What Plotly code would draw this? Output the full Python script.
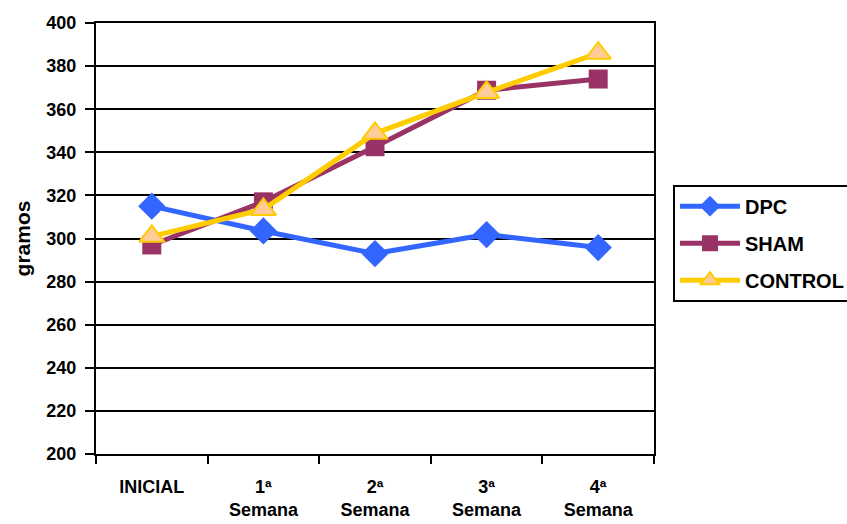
import plotly.graph_objects as go

# Weekly body-weight measurements (grams)
categories = ["INICIAL", "1ª<br>Semana", "2ª<br>Semana", "3ª<br>Semana", "4ª<br>Semana"]
dpc = [315, 303.5, 293, 301.8, 295.8]
sham = [297, 317, 342.6, 368.8, 374]
control = [301, 313.5, 348.8, 367.8, 386]

font_family = "Arial, Liberation Sans, sans-serif"

fig = go.Figure()
fig.add_trace(go.Scatter(
    x=categories, y=dpc, name="DPC", mode="lines+markers", legendgroup="g1",
    line=dict(color="#3366FF", width=5),
    marker=dict(symbol="diamond", size=21, color="#3366FF"),
))
fig.add_trace(go.Scatter(
    x=categories, y=sham, name="SHAM", mode="lines+markers", legendgroup="g2",
    line=dict(color="#993366", width=5),
    marker=dict(symbol="square", size=19, color="#993366"),
))
fig.add_trace(go.Scatter(
    x=categories, y=control, name="CONTROL", mode="lines+markers", legendgroup="g3",
    line=dict(color="#FFCC00", width=5),
    marker=dict(symbol="triangle-up", size=22, color="#FFCC99",
                line=dict(color="#FFCC00", width=2)),
))

fig.update_layout(
    width=847, height=524,
    margin=dict(l=96, r=193, t=23, b=70, autoexpand=False),
    paper_bgcolor="white", plot_bgcolor="white",
    font=dict(family=font_family, size=18, color="black"),
    showlegend=True,
    legend=dict(
        x=1.034, y=0.625, xanchor="left", yanchor="top",
        bordercolor="black", borderwidth=2, bgcolor="white",
        font=dict(family=font_family, size=20, color="black", weight="bold"),
        itemwidth=60, tracegroupgap=8,
    ),
)

fig.update_xaxes(
    type="category", tickson="boundaries",
    showline=True, linecolor="black", linewidth=2, mirror=True,
    ticks="outside", ticklen=8, tickcolor="black", tickwidth=2,
    showgrid=False, ticklabelstandoff=15,
    tickfont=dict(family=font_family, size=18, color="black", weight="bold"),
    range=[-0.5, 4.5],
)
fig.update_yaxes(
    range=[200, 400], dtick=20,
    showline=True, linecolor="black", linewidth=2, mirror=True,
    ticks="outside", ticklen=9, tickcolor="black", tickwidth=2,
    showgrid=True, gridcolor="black", gridwidth=2,
    zeroline=False, ticklabelstandoff=5,
    tickfont=dict(family=font_family, size=18, color="black", weight="bold"),
    title=dict(text="gramos", standoff=10,
               font=dict(family=font_family, size=21, color="black", weight="bold")),
)

fig.write_html("out.html")
